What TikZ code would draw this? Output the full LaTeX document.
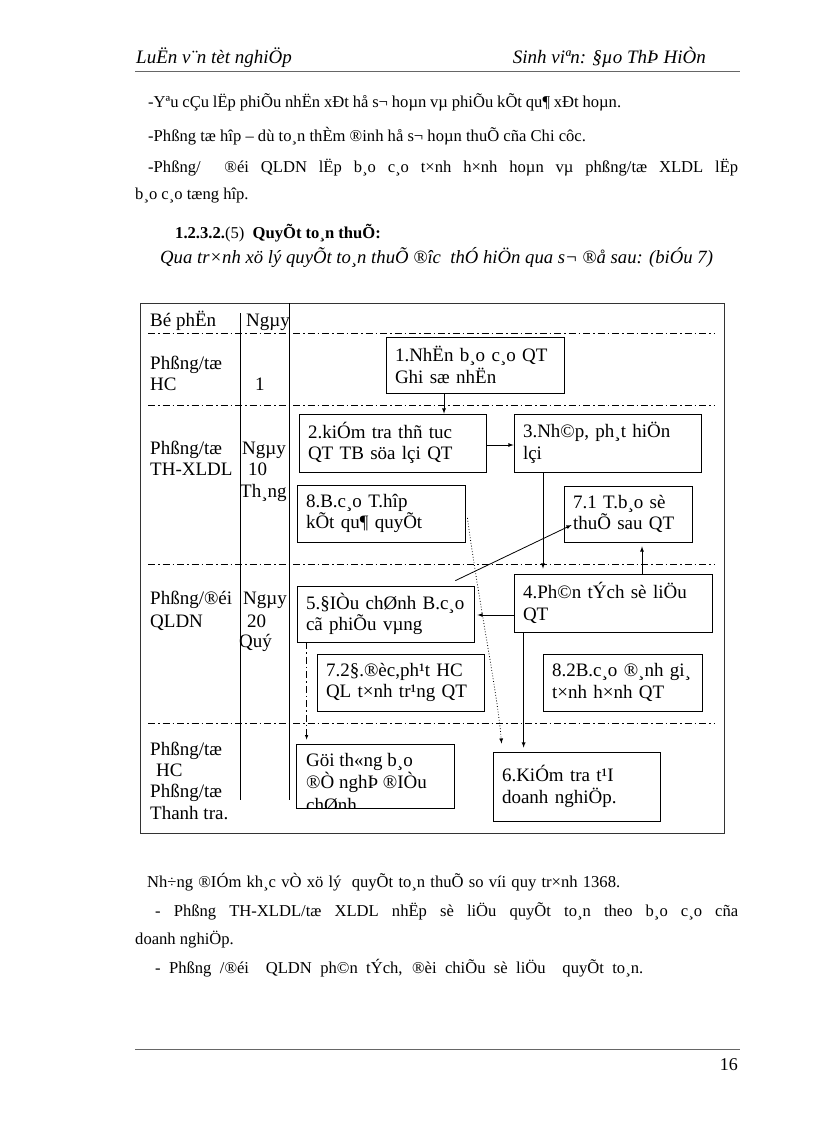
\documentclass[tikz,border=0pt]{standalone}
\usepackage{fontspec}
\setmainfont{Liberation Serif}
\usetikzlibrary{arrows}

\begin{document}
\begin{tikzpicture}[x=1pt,y=-1pt,
	hop/.style={draw, line width=0.8pt, align=left, inner xsep=9pt, inner ysep=2pt, font=\fontsize{19}{21.5}\selectfont},
	lbl/.style={anchor=base west, inner sep=0pt, font=\fontsize{19}{21.5}\selectfont},
	vb/.style={anchor=base west, inner sep=0pt, font=\fontsize{16.6}{20}\selectfont},
	ranh/.style={line width=0.6pt, dash pattern=on 7pt off 3pt on 1.5pt off 3pt},
	mui/.style={-latex, line width=0.8pt}]
	\useasboundingbox (0,0) rectangle (816,1123);
	\fill[white] (0,0) rectangle (816,1123);
	\node[vb, font=\fontsize{19}{22}\selectfont\itshape] (tieude) at (136,64) {LuËn v¨n tèt nghiÖp};
	\node[vb, anchor=base east, font=\fontsize{19}{22}\selectfont\itshape] (tacgia) at (706,64) {Sinh viªn: §µo ThÞ HiÒn};
	\draw[line width=1pt, black!60] (135,72) -- (740,72);
	\node[vb] (d1) at (148,108) {\makebox[473pt][s]{-Yªu cÇu lËp phiÕu nhËn xÐt hå s¬ hoµn vµ phiÕu kÕt qu¶ xÐt hoµn.}};
	\node[vb] (d2) at (148,142) {-Phßng tæ hîp – dù to¸n thÈm ®inh hå s¬ hoµn thuÕ cña Chi côc.};
	\node[vb] (d3) at (148,173) {\makebox[590pt][s]{-Phßng/\ \ ®éi QLDN lËp b¸o c¸o t×nh h×nh hoµn vµ phßng/tæ XLDL lËp}};
	\node[vb] (d4) at (135,200) {b¸o c¸o tæng hîp.};
	\node[vb] (muc) at (175,238) {{\bfseries 1.2.3.2.}(5)\ \ {\bfseries QuyÕt to¸n thuÕ:}};
	\node[vb, font=\fontsize{18.7}{22}\selectfont\itshape] (dan) at (160,263) {Qua tr×nh xö lý quyÕt to¸n thuÕ ®îc\ \ thÓ hiÖn qua s¬ ®å sau: (biÓu 7)};

	\draw[line width=1pt, black!80] (140,303) rectangle (724,833);
	\draw[line width=0.8pt] (240,313) -- (240,800);
	\draw[line width=0.8pt] (289,303) -- (289,800);
	\foreach \y in {333,405,564,723}
		\draw[ranh] (148,\y) -- (715,\y);

	\node[lbl] (bophan) at (150,326) {Bé phËn};
	\node[lbl] (ngay0) at (246,326) {Ngµy};
	\node[lbl] (hc1a) at (150,369) {Phßng/tæ};
	\node[lbl] (hc1b) at (150,390) {HC};
	\node[lbl] (mot) at (255,390) {1};
	\node[lbl] (th2a) at (150,454) {Phßng/tæ};
	\node[lbl] (th2b) at (150,475) {TH-XLDL};
	\node[lbl] (ngay2) at (242,454) {Ngµy};
	\node[lbl] (muoi) at (248,475) {10};
	\node[lbl] (thang) at (240,497) {Th¸ng};
	\node[lbl] (ql3a) at (150,604) {Phßng/®éi};
	\node[lbl] (ql3b) at (150,627) {QLDN};
	\node[lbl] (ngay3) at (243,604) {Ngµy};
	\node[lbl] (haimuoi) at (247,627) {20};
	\node[lbl] (quy) at (239,647) {Quý};
	\node[lbl] (hc4a) at (150,755) {Phßng/tæ};
	\node[lbl] (hc4b) at (156,776) {HC};
	\node[lbl] (tt4a) at (150,797) {Phßng/tæ};
	\node[lbl] (tt4b) at (150,819) {Thanh tra.};

	\node[hop, text width=160pt, minimum height=56pt] (nhan) at (475,365) {1.NhËn b¸o c¸o QT\\Ghi sæ nhËn};
	\node[hop, text width=169pt, minimum height=58pt] (kiemtra) at (392.5,443) {2.kiÓm tra thñ tuc\\QT TB söa lçi QT};
	\node[hop, text width=169pt, minimum height=58pt] (nhap) at (607.5,443) {3.Nh©p, ph¸t hiÖn\\lçi};
	\node[hop, text width=150pt, minimum height=57pt] (bcth) at (381,513.5) {8.B.c¸o T.hîp\\kÕt qu¶ quyÕt};
	\node[hop, text width=110pt, minimum height=56pt] (tb71) at (628,514) {7.1 T.b¸o sè\\thuÕ sau QT};
	\node[hop, text width=180pt, minimum height=58pt] (phantich) at (613,603) {4.Ph©n tÝch sè liÖu\\QT};
	\node[hop, text width=159pt, minimum height=56pt] (dieuchinh) at (385.5,614) {5.§IÒu chØnh B.c¸o\\cã phiÕu vµng};
	\node[hop, text width=149pt, minimum height=57pt] (dondoc) at (400.5,682.5) {7.2§.®èc,ph¹t HC\\QL t×nh tr¹ng QT};
	\node[hop, text width=141pt, minimum height=57pt] (danhgia) at (622.5,682.5) {8.2B.c¸o ®¸nh gi¸\\t×nh h×nh QT};
	\node[hop, text width=149pt, minimum height=69pt] (kiemtradn) at (576.5,786.5) {6.KiÓm tra t¹I\\doanh nghiÖp.};
	\node[hop, text width=140pt, minimum height=64pt] (guitb) at (375,776) {};
	\begin{scope}
		\clip (guitb.north west) rectangle (guitb.south east);
		\node[lbl, align=left, anchor=north west] (guitbchu) at (306,753) {Göi th«ng b¸o\\[1pt]®Ò nghÞ ®IÒu\\[1pt]chØnh};
	\end{scope}

	\draw[mui] ([xshift=-31pt]nhan.south) -- ([xshift=-31pt]nhan.south |- kiemtra.north);
	\draw[mui] ([yshift=-2pt]kiemtra.east) -- ([yshift=-2pt]nhap.west);
	\draw[mui, shorten >=5pt] ([xshift=-64.5pt]nhap.south) -- ([xshift=-64.5pt]nhap.south |- phantich.north);
	\draw[mui, shorten >=4pt] ([xshift=29pt]phantich.north) -- ([xshift=29pt]phantich.north |- tb71.south);
	\draw[mui, shorten >=3pt] ([yshift=-12pt]phantich.west) -- ([yshift=-12pt]phantich.west -| dieuchinh.east);
	\draw[mui] ([shift={(-19pt,5pt)}]dieuchinh.north east) -- ([shift={(8pt,-11pt)}]tb71.west);
	\draw[mui, dotted] ([shift={(2pt,-4.5pt)}]bcth.east) .. controls (480,610) and (497,690) .. ([shift={(9pt,8pt)}]kiemtradn.north west);
	\draw[mui, ranh, shorten >=4pt] ([xshift=10pt]dieuchinh.south west) -- ([xshift=10pt]dieuchinh.south west |- guitb.north);
	\draw[mui, shorten >=4pt] ([xshift=10pt]phantich.south west) -- ([xshift=10pt]phantich.south west |- kiemtradn.north);

	\node[vb] (s1) at (147,887) {\makebox[473pt][s]{Nh÷ng ®IÓm kh¸c vÒ xö lý\ \ quyÕt to¸n thuÕ so víi quy tr×nh 1368.}};
	\node[vb] (s2) at (155,916) {\makebox[583pt][s]{- Phßng TH-XLDL/tæ XLDL nhËp sè liÖu quyÕt to¸n theo b¸o c¸o cña}};
	\node[vb] (s3) at (135,944) {doanh nghiÖp.};
	\node[vb] (s4) at (155,973) {\makebox[488pt][s]{- Phßng /®éi\ \ QLDN ph©n tÝch, ®èi chiÕu sè liÖu\ \ quyÕt to¸n.}};
	\draw[line width=1pt, black!60] (135,1049) -- (740,1049);
	\node[vb, anchor=base east, font=\fontsize{18}{20}\selectfont] (trang) at (738,1070) {16};
\end{tikzpicture}
\end{document}
